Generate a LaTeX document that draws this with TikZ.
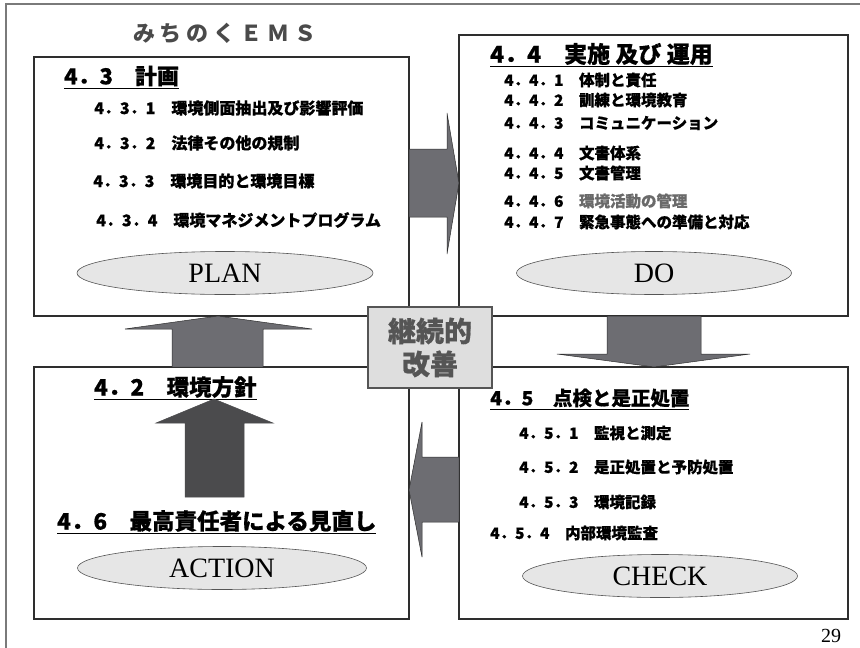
\documentclass[tikz,border=0pt]{standalone}
\usepackage{fontspec}
\setmainfont{Liberation Serif}
\newfontfamily\jp{Noto Sans CJK JP}[BoldFeatures={FakeBold=0.6}]
\newfontfamily\jpt{Noto Sans CJK JP}
\usetikzlibrary{shapes.geometric}
\definecolor{arrowgray}{HTML}{6D6D72}
\definecolor{darkarrow}{HTML}{4B4B4D}
\definecolor{framegray}{HTML}{7A7A7A}
\definecolor{boxline}{HTML}{2E2E2E}
\definecolor{ellfill}{HTML}{E6E6E6}
\definecolor{kfill}{HTML}{DEDEDE}
\definecolor{kline}{HTML}{555555}
\definecolor{titlegray}{HTML}{4A4A4A}
\definecolor{softgray}{HTML}{6A6A6A}
\newcommand\jfs[1]{\fontsize{#1}{#1}\selectfont}
\begin{document}
\begin{tikzpicture}[x=1pt,y=-1pt,
  panel/.style={draw=boxline, line width=1.1pt, fill=white, anchor=north west, inner sep=0, outer sep=0},
  blockarrow/.style={fill=arrowgray, draw=boxline, line width=0.5pt, line join=miter},
  innerarrow/.style={fill=darkarrow, draw=darkarrow, line width=0.5pt},
  phase/.style={ellipse, draw=kline, line width=0.6pt, fill=ellfill, minimum height=43pt, inner sep=0, font=\jfs{28}},
  hd/.style={anchor=west, inner sep=0, font=\jp\bfseries\jfs{22}},
  uline/.style={append after command={(\tikzlastnode.south west) ++(0,1.5) edge[draw=black, line width=1.3pt] ++(\tikzlastnode.south east -| 0,0)}},
  itm/.style={anchor=west, inner sep=0, font=\jp\bfseries\jfs{16}},
  itms/.style={anchor=west, inner sep=0, font=\jp\bfseries\jfs{15.5}},
]
\useasboundingbox (0,0) rectangle (860,648);
\fill[white] (0,0) rectangle (860,648);
% outer slide frame
\draw[framegray, line width=2pt] (6,648) -- (6,4) -- (860,4);

% title
\node[font=\jpt\bfseries\jfs{22}, text=titlegray, inner sep=0] (title) at (225,33)
  {み\hspace{5pt}ち\hspace{5pt}の\hspace{5pt}く\hspace{5pt}Ｅ\hspace{5pt}Ｍ\hspace{5pt}Ｓ};

% panels
\node[panel, minimum width=375pt, minimum height=259pt] (plan) at (34,57) {};
\node[panel, minimum width=389pt, minimum height=281pt] (do) at (459,35) {};
\node[panel, minimum width=375pt, minimum height=252pt] (act) at (34,367) {};
\node[panel, minimum width=389pt, minimum height=252pt] (chk) at (459,367) {};

% block arrows between panels
\draw[blockarrow] (409,149) -- (447,149) -- (447,113) -- (459,183) -- (447,254) -- (447,217) -- (409,217) -- cycle;
\draw[blockarrow] (607,316) -- (607,354) -- (557,354) -- (654,367) -- (750,354) -- (701,354) -- (701,316) -- cycle;
\draw[blockarrow] (459,457) -- (422,457) -- (422,422) -- (409,490) -- (422,557) -- (422,522) -- (459,522) -- cycle;
\draw[blockarrow] (172,367) -- (172,329) -- (125,329) -- (218,316) -- (312,329) -- (263,329) -- (263,367) -- cycle;

% PLAN panel
\node[hd] (h43) at (64,77) {\underline{4．3　計画}};
\node[itm] (p1) at (94,108) {4．3．1　環境側面抽出及び影響評価};
\node[itm] (p2) at (94,143) {4．3．2　法律その他の規制};
\node[itm] (p3) at (93,181) {4．3．3　環境目的と環境目標};
\node[itm] (p4) at (96,220) {4．3．4　環境マネジメントプログラム};
\node[phase, minimum width=296pt] (planE) at (225,273) {PLAN};

% DO panel
\node[hd, font=\jp\bfseries\jfs{23}] (h44) at (490,55) {\underline{4．4　実施 及び 運用}};
\node[itms] (d1) at (504,80) {4．4．1　体制と責任};
\node[itms] (d2) at (504,100) {4．4．2　訓練と環境教育};
\node[itms] (d3) at (504,123) {4．4．3　コミュニケーション};
\node[itms] (d4) at (504,153) {4．4．4　文書体系};
\node[itms] (d5) at (504,173) {4．4．5　文書管理};
\node[itms] (d6) at (504,201) {4．4．6　\textcolor{softgray}{環境活動の管理}};
\node[itms] (d7) at (504,222) {4．4．7　緊急事態への準備と対応};
\node[phase, minimum width=275pt] (doE) at (654,273) {DO};

% CHECK panel
\node[hd, font=\jp\bfseries\jfs{19.5}] (h45) at (490,399) {\underline{4．5　点検と是正処置}};
\node[itms] (c1) at (519,433) {4．5．1　監視と測定};
\node[itms] (c2) at (519,467) {4．5．2　是正処置と予防処置};
\node[itms] (c3) at (519,502) {4．5．3　環境記録};
\node[itms] (c4) at (490,533) {4．5．4　内部環境監査};
\node[phase, minimum width=275pt] (chkE) at (660,576) {CHECK};

% ACTION panel
\node[hd, font=\jp\bfseries\jfs{22.5}] (h42) at (94,388) {\underline{4．2　環境方針}};
\draw[innerarrow] (185,497) -- (185,423) -- (156,423) -- (214,399) -- (273,423) -- (244,423) -- (244,497) -- cycle;
\node[hd, font=\jp\bfseries\jfs{22.5}] (h46) at (57,522) {\underline{4．6　最高責任者による見直し}};
\node[phase, minimum width=289pt] (actE) at (222,568) {ACTION};

% continual improvement box
\node[draw=kline, line width=2.5pt, fill=kfill, minimum width=124pt, minimum height=81pt,
  inner sep=0, align=center, text=kline, font=\jp\bfseries\fontsize{28}{33}\selectfont] (kaizen) at (430,347.5) {継続的\\改善};

% page number
\node[font=\jfs{20}, inner sep=0] (pg) at (831,636) {29};
\end{tikzpicture}
\end{document}
